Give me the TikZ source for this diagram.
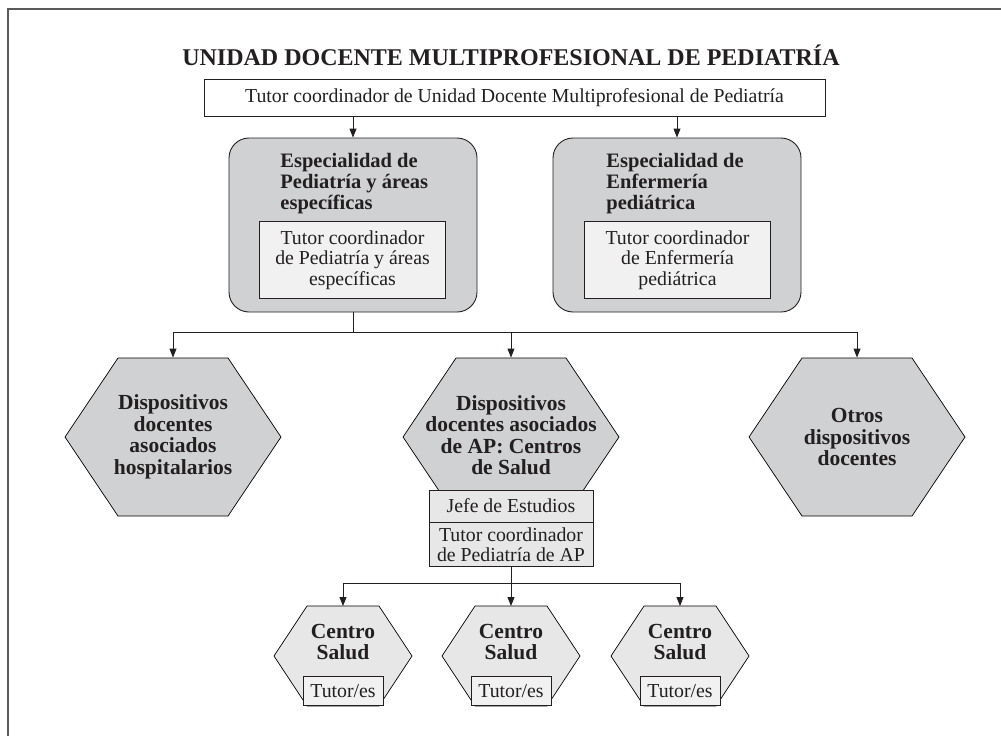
\documentclass[tikz,border=0pt]{standalone}
\usepackage{fontspec}
\setmainfont{Liberation Serif}
\usetikzlibrary{positioning,arrows.meta,backgrounds}
\definecolor{inkcol}{RGB}{35,31,32}
\definecolor{framecol}{RGB}{90,90,90}
\definecolor{boxgray}{RGB}{208,209,211}
\definecolor{palegray}{RGB}{241,241,242}
\definecolor{subgray}{RGB}{231,231,232}

\begin{document}
\begin{tikzpicture}[x=1pt,y=-1pt,color=inkcol,line width=0.9pt,
  font=\fontsize{19.8}{20.5}\selectfont,
  plainbox/.style={draw,fill=white,minimum width=621pt,minimum height=37pt,inner sep=0pt},
  espbox/.style={draw,fill=boxgray,rounded corners=20pt,minimum width=248pt,minimum height=174pt},
  esphead/.style={anchor=north west,inner sep=0pt,align=left,font=\bfseries\fontsize{20.5}{21}\selectfont},
  inbox/.style={draw,fill=palegray,minimum width=186pt,minimum height=77pt,inner sep=0pt,align=center},
  bighex/.style={minimum width=216pt,minimum height=158pt,inner sep=0pt,align=center,
    font=\bfseries\fontsize{21.5}{21.5}\selectfont},
  subbox/.style={draw,fill=subgray,minimum width=164pt,inner sep=0pt,align=center},
  smallhex/.style={anchor=north,minimum width=138pt,minimum height=71pt,inner sep=0pt,align=center,
    font=\bfseries\fontsize{21.5}{21}\selectfont},
  tutbox/.style={draw,fill=palegray,anchor=south,minimum width=80pt,minimum height=29pt,inner sep=0pt},
  arr/.style={-{Triangle[length=9pt,width=7pt]}},
  bighexpath/.pic={\draw[fill=boxgray,line width=0.7pt] (-108,0) -- (-55,-79) -- (55,-79) -- (108,0)
    -- (55,79) -- (-55,79) -- cycle;},
  smallhexpath/.pic={\draw[fill=subgray,line width=0.7pt] (-69,0) -- (-36,-50) -- (36,-50) -- (69,0)
    -- (36,50) -- (-36,50) -- cycle;}]

  \useasboundingbox (0,0) rectangle (1001,736);
  \draw[framecol,line width=1.5pt] (8,736) -- (8,9) -- (1001,9);

  \node[anchor=base,font=\bfseries\fontsize{24}{24}\selectfont] (title) at (511,65)
    {UNIDAD DOCENTE MULTIPROFESIONAL DE PEDIATRÍA};
  \node[plainbox] (tutorUD) at (514.5,97.5)
    {Tutor coordinador de Unidad Docente Multiprofesional de Pediatría};

  % the two specialities
  \node[espbox] (espPed) at (353,225) {};
  \node[espbox] (espEnf) at (677,225) {};
  \node[esphead] (espPedT) at (280,153) {Especialidad de\\Pediatría y áreas\\específicas};
  \node[esphead] (espEnfT) at (606,153) {Especialidad de\\Enfermería\\pediátrica};
  \node[inbox] (tcPed) at (352.5,260) {Tutor coordinador\\de Pediatría y áreas\\específicas};
  \node[inbox] (tcEnf) at (677.5,260) {Tutor coordinador\\de Enfermería\\pediátrica};

  % teaching devices
  \node[bighex] (hosp) at (173,437) {Dispositivos\\docentes\\asociados\\hospitalarios};
  \node[bighex] (apcs) at (511,435) {Dispositivos\\docentes asociados\\de AP: Centros\\de Salud};
  \node[bighex] (otros) at (857,437) {Otros\\dispositivos\\docentes};
  \node[subbox,minimum height=32pt] (jefe) at (511,506) {Jefe de Estudios};
  \node[subbox,minimum height=44pt,below=0pt of jefe] (tutorAP) {Tutor coordinador\\de Pediatría de AP};

  % health centres
  \node[smallhex] (cs1) at (343,606) {Centro\\Salud};
  \node[smallhex] (cs2) at (511,606) {Centro\\Salud};
  \node[smallhex] (cs3) at (680,606) {Centro\\Salud};
  \node[tutbox] (tut1) at (343,706) {Tutor/es};
  \node[tutbox] (tut2) at (511,706) {Tutor/es};
  \node[tutbox] (tut3) at (680,706) {Tutor/es};

  \begin{scope}[on background layer]
    \pic at (hosp.center) {bighexpath};
    \pic at ([yshift=-2pt]apcs.center) {bighexpath};
    \pic at (otros.center) {bighexpath};
    \pic at ([yshift=-50pt]cs1.north) {smallhexpath};
    \pic at ([yshift=-50pt]cs2.north) {smallhexpath};
    \pic at ([yshift=-50pt]cs3.north) {smallhexpath};
  \end{scope}

  % connectors
  \draw[arr] (tutorUD.south -| espPed.north) -- (espPed.north);
  \draw[arr] (tutorUD.south -| espEnf.north) -- (espEnf.north);
  \draw (espPed.south) -- ++(0,20) coordinate (split1);
  \draw[arr] (split1) -| (hosp.north);
  \draw[arr] (split1) -| (otros.north);
  \draw[arr] (split1 -| apcs.north) -- ([yshift=-2pt]apcs.north);
  \draw (tutorAP.south) -- ++(0,16) coordinate (split2);
  \draw[arr] (split2) -| (cs1.north);
  \draw[arr] (split2) -| (cs3.north);
  \draw[arr] (split2) -- (cs2.north);

\end{tikzpicture}
\end{document}
